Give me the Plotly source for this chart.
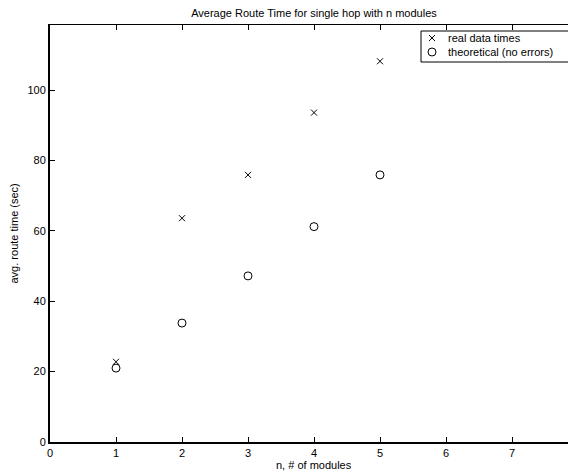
import plotly.graph_objects as go

n_modules = [1, 2, 3, 4, 5]
real_times = [22.8, 63.6, 75.9, 93.6, 108.2]
theoretical_times = [21.0, 33.8, 47.2, 61.2, 75.9]
x_ticks = [0, 1, 2, 3, 4, 5, 6, 7, 8]
y_ticks = [0, 20, 40, 60, 80, 100]
legend_labels = ["real data times", "theoretical (no errors)"]

FONT = "Liberation Sans, Arial, Helvetica, sans-serif"
W, H = 576, 474
OFF = 8  # page body margin offset
L, R, T, B = 42, 6, 17, 40
PW, PH = W - L - R, H - T - B


def px_x(p):
    # p: window pixel x
    return (p - OFF - L) / PW


def px_y(p):
    # p: window pixel y
    return (H - B - (p - OFF)) / PH


fig = go.Figure()
fig.add_trace(go.Scatter(
    x=n_modules, y=real_times, mode="markers", name=legend_labels[0],
    marker=dict(symbol="x-thin-open", size=6, color="black",
                line=dict(color="black", width=1)),
    showlegend=False,
))
fig.add_trace(go.Scatter(
    x=n_modules, y=theoretical_times, mode="markers", name=legend_labels[1],
    marker=dict(symbol="circle-open", size=8, color="black",
                line=dict(color="black", width=1)),
    showlegend=False,
))
# empty trace so the top (mirror) axis gets drawn
fig.add_trace(go.Scatter(x=[], y=[], xaxis="x2", showlegend=False, hoverinfo="skip"))

fig.update_layout(
    width=W, height=H,
    margin=dict(l=L, r=R, t=T, b=B),
    paper_bgcolor="white", plot_bgcolor="white",
    font=dict(family=FONT, size=11, color="black"),
    title=dict(text="Average Route Time for single hop with n modules",
               x=0.5, xref="paper", xanchor="center",
               y=1 - 5 / H, yref="container", yanchor="middle",
               font=dict(size=11)),
    xaxis=dict(range=[0, 8], tickvals=x_ticks, ticks="inside", ticklen=5,
               tickcolor="black", showline=True, linecolor="black", linewidth=2,
               showgrid=False, zeroline=False, mirror=False, automargin=False),
    xaxis2=dict(range=[0, 8], overlaying="x", side="top",
                tickvals=x_ticks, ticks="inside", ticklen=5, tickcolor="black",
                showline=True, linecolor="black", linewidth=1,
                showticklabels=False, showgrid=False, zeroline=False,
                automargin=False),
    yaxis=dict(range=[0, 118.5], tickvals=y_ticks, ticks="inside", ticklen=5,
               tickcolor="black", showline=True, linecolor="black", linewidth=2,
               showgrid=False, zeroline=False, mirror=False, automargin=False),
    showlegend=False,
)

# axis titles
fig.add_annotation(x=0.5, xref="paper", y=0, yref="paper", yanchor="middle",
                   yshift=-23, text="n, # of modules", showarrow=False,
                   font=dict(size=11))
fig.add_annotation(x=0, xref="paper", xanchor="center", xshift=-37,
                   y=0.5, yref="paper", text="avg. route time (sec)",
                   textangle=-90, showarrow=False, font=dict(size=11))

# legend box
fig.add_shape(type="rect", xref="paper", yref="paper",
              x0=px_x(421), x1=px_x(572), y0=px_y(62), y1=px_y(31),
              line=dict(color="black", width=1), fillcolor="white", layer="above")
mx = px_x(432)
row_y = [px_y(38), px_y(52)]
for dx0, dy0, dx1, dy1 in [(-3, -3, 3, 3), (-3, 3, 3, -3)]:
    fig.add_shape(type="line", xref="paper", yref="paper",
                  xsizemode="pixel", ysizemode="pixel",
                  xanchor=mx, yanchor=row_y[0],
                  x0=dx0, x1=dx1, y0=dy0, y1=dy1,
                  line=dict(color="black", width=1), layer="above")
fig.add_shape(type="circle", xref="paper", yref="paper",
              xsizemode="pixel", ysizemode="pixel",
              xanchor=mx, yanchor=row_y[1],
              x0=-4, x1=4, y0=-4, y1=4,
              line=dict(color="black", width=1), layer="above")
for label, yy in zip(legend_labels, row_y):
    fig.add_annotation(x=px_x(446), xref="paper", xanchor="left",
                       y=yy, yref="paper", yanchor="middle",
                       text=label, showarrow=False, font=dict(size=11))

fig.write_html("out.html")
